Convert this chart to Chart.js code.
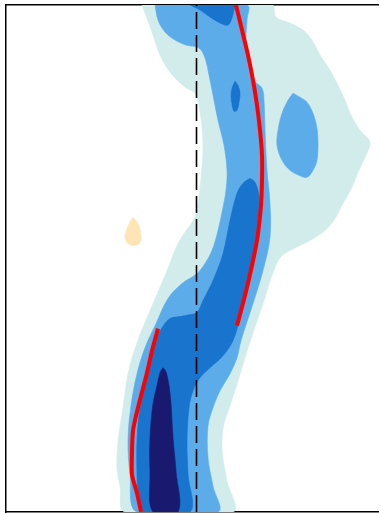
<!DOCTYPE html>
<html>
<head>
<meta charset="utf-8">
<script src="https://cdn.jsdelivr.net/npm/chart.js@4/dist/chart.umd.min.js"></script>
<style>
  html, body { margin: 0; padding: 0; background: #fff; }
  #wrap { width: 381px; height: 513px; }
</style>
</head>
<body>
<div id="wrap"><canvas id="c"></canvas></div>
<script>
// Plot extent (x across, depth-like y running downward)
const xRange = [6, 378];
const yRange = [5, 511];

// Density contour levels, outermost to innermost, as closed outlines [x, y]
const level1Band = [
  [142,5],[272,5],[276,17],[290,23],[303,30],[312,40],[320,55],[330,70],[338,85],[345,100],
  [351,115],[360,130],[370,142],[366,155],[358,172],[352,187],[343,203],[335,218],[325,230],
  [310,240],[296,247],[281,256],[273,272],[263,303],[251,338],[245,357],[238,380],[230,405],
  [224,423],[222,440],[223,458],[227,480],[233,511],[125,511],[120,485],[117,468],[118,440],
  [123,407],[128,373],[137,342],[153,303],[167,270],[177,245],[184,233],[192,222],[197,210],
  [201,177],[203,143],[200,112],[195,93],[185,87],[170,72],[160,55],[152,32],[142,5]
];
const level2Band = [
  [155,5],[158,20],[165,32],[175,40],[186,45],[199,48],[205,58],[209,75],[213,95],[218,120],
  [224,145],[227,170],[226,190],[223,207],[218,230],[212,250],[205,263],[197,273],[182,283],
  [168,298],[156,323],[145,347],[137,373],[131,405],[128,440],[130,473],[137,511],[218,511],
  [213,485],[208,457],[208,425],[213,407],[220,390],[230,373],[237,357],[241,340],[253,303],
  [263,270],[270,237],[270,203],[267,170],[265,130],[264,100],[262,88],[254,80],[249,60],
  [246,40],[247,20],[247,5],[155,5]
];
const level2Patch = [
  [293,93],[300,97],[307,102],[313,113],[317,128],[318,143],[317,160],[313,170],[307,177],
  [299,175],[290,170],[282,160],[277,145],[278,130],[282,113],[288,100],[293,93]
];
const level3Top = [
  [190,5],[200,10],[210,17],[220,23],[228,25],[232,18],[234,10],[235,5],[190,5]
];
const level3Spot = [
  [235,81],[238,85],[240,93],[239,102],[237,110],[234,111],[232,104],[231,96],[232,88],[235,81]
];
const level3Core = [
  [250,178],[255,182],[259,195],[259,215],[257,235],[254,252],[250,273],[245,295],[240,317],
  [233,340],[223,355],[210,367],[200,377],[193,390],[189,407],[187,440],[188,473],[190,511],
  [143,511],[138,490],[137,473],[137,440],[140,407],[148,373],[152,355],[157,337],[162,327],
  [170,318],[180,316],[190,314],[197,312],[203,300],[213,280],[223,253],[230,220],[237,193],
  [243,183],[250,178]
];
const level4Core = [
  [163,367],[166,371],[169,385],[171,403],[173,437],[176,470],[178,511],[153,511],[150,470],
  [150,437],[153,403],[157,385],[160,372],[163,367]
];
const outlierPatch = [
  [133,217],[138,223],[141,235],[140,242],[135,245],[128,243],[125,237],[127,228],[130,221],[133,217]
];

// Fitted profiles
const fitUpper = [
  [236,5],[242,30],[248,55],[253,80],[257,105],[260,130],[262,155],[262,180],[261,205],
  [259,225],[257,240],[252,265],[245,295],[237,325]
];
const fitLower = [
  [158,328],[152,350],[147,372],[141,395],[136,415],[133,430],[132,450],[132,474],[137,492],[141,511]
];

// Reference position
const referenceX = 196.5;

const toPts = arr => arr.map(([x, y]) => ({ x, y }));

function region(points, color, order) {
  return {
    data: toPts(points),
    showLine: true,
    fill: 'shape',
    backgroundColor: color,
    borderColor: color,
    borderWidth: 0.6,
    pointRadius: 0,
    tension: 0.35,
    clip: 0,
    order
  };
}

const datasets = [
  region(level1Band, '#d2ecec', 90),
  region(level2Band, '#5cacea', 80),
  region(level2Patch, '#5cacea', 79),
  region(level3Top, '#1874cd', 70),
  region(level3Spot, '#1874cd', 69),
  region(level3Core, '#1874cd', 68),
  region(level4Core, '#191970', 60),
  region(outlierPatch, '#ffe4b5', 59),
  {
    data: [{ x: referenceX, y: yRange[1] }, { x: referenceX, y: yRange[0] }],
    showLine: true, fill: false, borderColor: '#000', borderWidth: 1.6,
    borderDash: [17, 6], pointRadius: 0, clip: 0, order: 20
  },
  {
    data: toPts(fitUpper), showLine: true, fill: false, borderColor: '#ff0000',
    borderWidth: 4, pointRadius: 0, tension: 0.3, clip: 0, order: 10
  },
  {
    data: toPts(fitLower), showLine: true, fill: false, borderColor: '#ff0000',
    borderWidth: 4, pointRadius: 0, tension: 0.2, clip: 0, order: 10
  }
];

const hiddenAxis = (extra) => Object.assign({
  type: 'linear',
  ticks: { display: false },
  grid: { display: false, drawTicks: false },
  border: { display: true, color: '#000', width: 1.5 }
}, extra);

new Chart(document.getElementById('c'), {
  type: 'scatter',
  data: { datasets },
  options: {
    responsive: true,
    maintainAspectRatio: false,
    animation: false,
    layout: { padding: { left: 6, top: 5, right: 3, bottom: 1 } },
    plugins: { legend: { display: false }, tooltip: { enabled: false } },
    scales: {
      x: hiddenAxis({ position: 'bottom', min: xRange[0], max: xRange[1] }),
      xTop: hiddenAxis({ position: 'top', min: xRange[0], max: xRange[1] }),
      y: hiddenAxis({ position: 'left', reverse: true, min: yRange[0], max: yRange[1] })
    }
  }
});
</script>
</body>
</html>
